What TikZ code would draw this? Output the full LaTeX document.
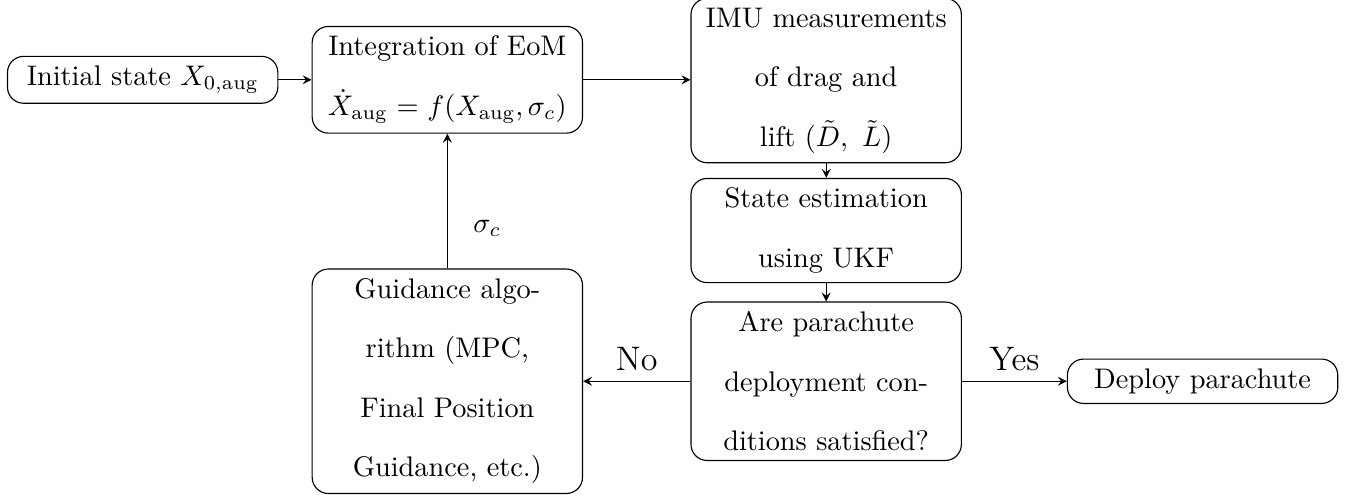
\documentclass[tikz,border=0pt]{standalone}
\usepackage{amsmath}
\begin{document}
\begin{tikzpicture}

    \tikzset{
        block/.style={
            draw,
            rectangle,
            rounded corners=2mm,
            text width=3.12cm,
            align=center,
            font=\linespread{1.75}\selectfont
        },
        flow/.style={-stealth},
        answer/.style={font=\large, above}
    }

    \useasboundingbox (0,0) rectangle (16.91,-6.17);

    % bloky
    \node[block] (init)   at ( 1.77,-0.99) {Initial state $X_{0,\text{aug}}$};
    \node[block] (integ)  at ( 5.55,-0.99) {Integration of EoM\\
        $\dot{X}_{\text{aug}} = f(X_{\text{aug}}, \sigma_c)$};
    \node[block] (imu)    at (10.25,-1.00) {IMU measurements\\ of drag and\\
        lift $(\tilde{D},\ \tilde{L})$};
    \node[block] (est)    at (10.25,-2.86) {State estimation\\ using UKF};
    \node[block] (cond)   at (10.25,-4.73) {Are parachute\\ deployment con-\\
        ditions satisfied?};
    \node[block] (deploy) at (14.92,-4.73) {Deploy parachute};
    \node[block] (guid)   at ( 5.55,-4.73) {Guidance algo-\\ rithm (MPC,\\
        Final Position\\ Guidance, etc.)};

    % spojnice
    \draw[flow] (init) -- (integ);
    \draw[flow] (integ) -- (integ -| imu.west);
    \draw[flow] (imu) -- (est);
    \draw[flow] (est) -- (cond);
    \draw[flow] (cond) -- node[answer] {Yes} (deploy);
    \draw[flow] (cond) -- node[answer] {N\kern0pt o} (guid);
    \draw[flow] (guid) -- node[pos=0.3, right=2mm] {$\sigma_c$} (integ);

\end{tikzpicture}
\end{document}
